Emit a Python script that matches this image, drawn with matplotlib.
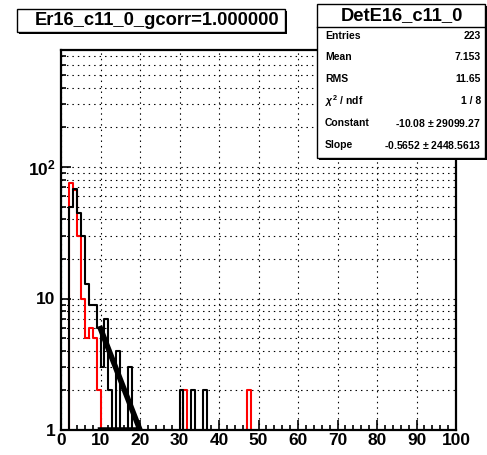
"""ROOT-style log histogram: Er16_c11_0 with DetE16_c11_0 fit stats."""
import matplotlib
matplotlib.use("Agg")
import matplotlib.pyplot as plt
import numpy as np
from matplotlib.patches import Rectangle

plt.rcParams["font.family"] = ["Liberation Sans", "DejaVu Sans"]
plt.rcParams["font.weight"] = "bold"
plt.rcParams["mathtext.fontset"] = "custom"
plt.rcParams["mathtext.rm"] = "Liberation Sans:bold"
plt.rcParams["mathtext.bf"] = "Liberation Sans:bold"
plt.rcParams["mathtext.it"] = "Liberation Sans:italic"

# histogram contents (bin index = lower edge, width 1)
black_bins = [2, 3, 4, 5, 6, 7, 8, 9, 10, 11, 12, 13, 14, 15, 16, 17, 18, 30, 33, 36]
black_counts = [50, 68, 45, 30, 13, 9, 9, 6, 3, 7, 2, 1, 4, 1, 1, 3, 1, 2, 2, 2]
red_bins = [2, 3, 4, 5, 6, 7, 8, 9, 31, 47]
red_counts = [76, 67, 30, 10, 5, 6, 5, 2, 2, 2]

# fit line endpoints as drawn
fit_x = [10.0, 20.0, 10.0]
fit_y = [5.9, 1.0, 1.0]

title = "Er16_c11_0_gcorr=1.000000"
stats_title = "DetE16_c11_0"
stats_labels = ["Entries", "Mean", "RMS", r"$\chi^{2}$ / ndf", "Constant", "Slope"]
stats_values = ["223", "7.153", "11.65", "1 / 8",
                "-10.08 $\\pm$ 29099.27", "-0.5652 $\\pm$ 2448.5613"]

W, H = 487, 455
edges = np.arange(0, 101, 1)


def step_xy(bins, counts):
    full = np.full(len(edges) - 1, 1e-3)
    full[bins] = counts
    x = np.repeat(edges, 2)
    y = np.concatenate([[1e-3], np.repeat(full, 2), [1e-3]])
    return x, y


def fx(px):
    return px / W


def fy(py):
    return (H - py) / H


fig = plt.figure(figsize=(W / 100, H / 100), dpi=100)
ax = fig.add_axes([fx(61), fy(430), 395 / W, 380 / H])

rx, ry = step_xy(red_bins, red_counts)
ax.plot(rx, ry, color="red", lw=1.5, zorder=3)
bx, by = step_xy(black_bins, black_counts)
ax.plot(bx, by, color="black", lw=1.5, zorder=4)
ax.plot(fit_x, fit_y, color="black", lw=4, zorder=5, solid_joinstyle="miter")

ax.set_yscale("log")
ax.set_xlim(0, 100)
ax.set_ylim(1, 10 ** (380 / 131.5))

ax.set_xticks(np.arange(0, 101, 10))
ax.set_xticks(np.arange(0, 101, 2), minor=True)
ax.set_xticklabels([str(v) for v in range(0, 101, 10)], fontsize=12.5, fontweight="bold")
ax.set_yticks([1, 10, 100])
ax.set_yticklabels(["1", "10", r"$\mathbf{10^{2}}$"], fontsize=12.5, fontweight="bold")

ax.tick_params(axis="both", which="major", direction="in", length=7, width=1.2)
ax.tick_params(axis="both", which="minor", direction="in", length=3.5, width=1.2)
ax.tick_params(axis="x", which="both", pad=2.5)
ax.tick_params(axis="y", which="both", pad=4, labelleft=True)
ax.tick_params(axis="y", which="minor", labelleft=False)

grid_kw = dict(color="black", lw=0.8, linestyle=(0, (1.3, 3.6)))
ax.xaxis.grid(True, which="major", **grid_kw)
ax.yaxis.grid(True, which="both", **grid_kw)
ax.set_axisbelow(True)
for sp in ax.spines.values():
    sp.set_linewidth(1.6)
    sp.set_zorder(6)

# title pave
sh = 2
fig.patches.append(Rectangle((fx(17 + sh), fy(32 + sh)), 268 / W, 23 / H,
                             transform=fig.transFigure, facecolor="black",
                             edgecolor="black", lw=0))
fig.patches.append(Rectangle((fx(17), fy(32)), 268 / W, 23 / H,
                             transform=fig.transFigure, facecolor="white",
                             edgecolor="black", lw=1))
fig.text(fx(157), fy(20.5), title, ha="center", va="center",
         fontsize=13.2, fontweight="bold")

# stats pave
fig.patches.append(Rectangle((fx(317 + sh), fy(158 + sh)), 168 / W, 154 / H,
                             transform=fig.transFigure, facecolor="black",
                             edgecolor="black", lw=0, zorder=10))
fig.patches.append(Rectangle((fx(317), fy(158)), 168 / W, 154 / H,
                             transform=fig.transFigure, facecolor="white",
                             edgecolor="black", lw=1, zorder=11))
fig.add_artist(plt.Line2D([fx(317), fx(485)], [fy(27), fy(27)],
                          transform=fig.transFigure, color="black", lw=1, zorder=12))
fig.text(fx(402), fy(15.5), stats_title, ha="center", va="center",
         fontsize=13.2, fontweight="bold", zorder=13)
row_y = [36, 57, 79, 101, 123, 145]
for yy, lab, val in zip(row_y, stats_labels, stats_values):
    fig.text(fx(325), fy(yy), lab, ha="left", va="center",
             fontsize=7.5, fontweight="bold", zorder=13)
    fig.text(fx(481), fy(yy), val, ha="right", va="center",
             fontsize=7.5, fontweight="bold", zorder=13)

fig.savefig("out.png", dpi=100)
